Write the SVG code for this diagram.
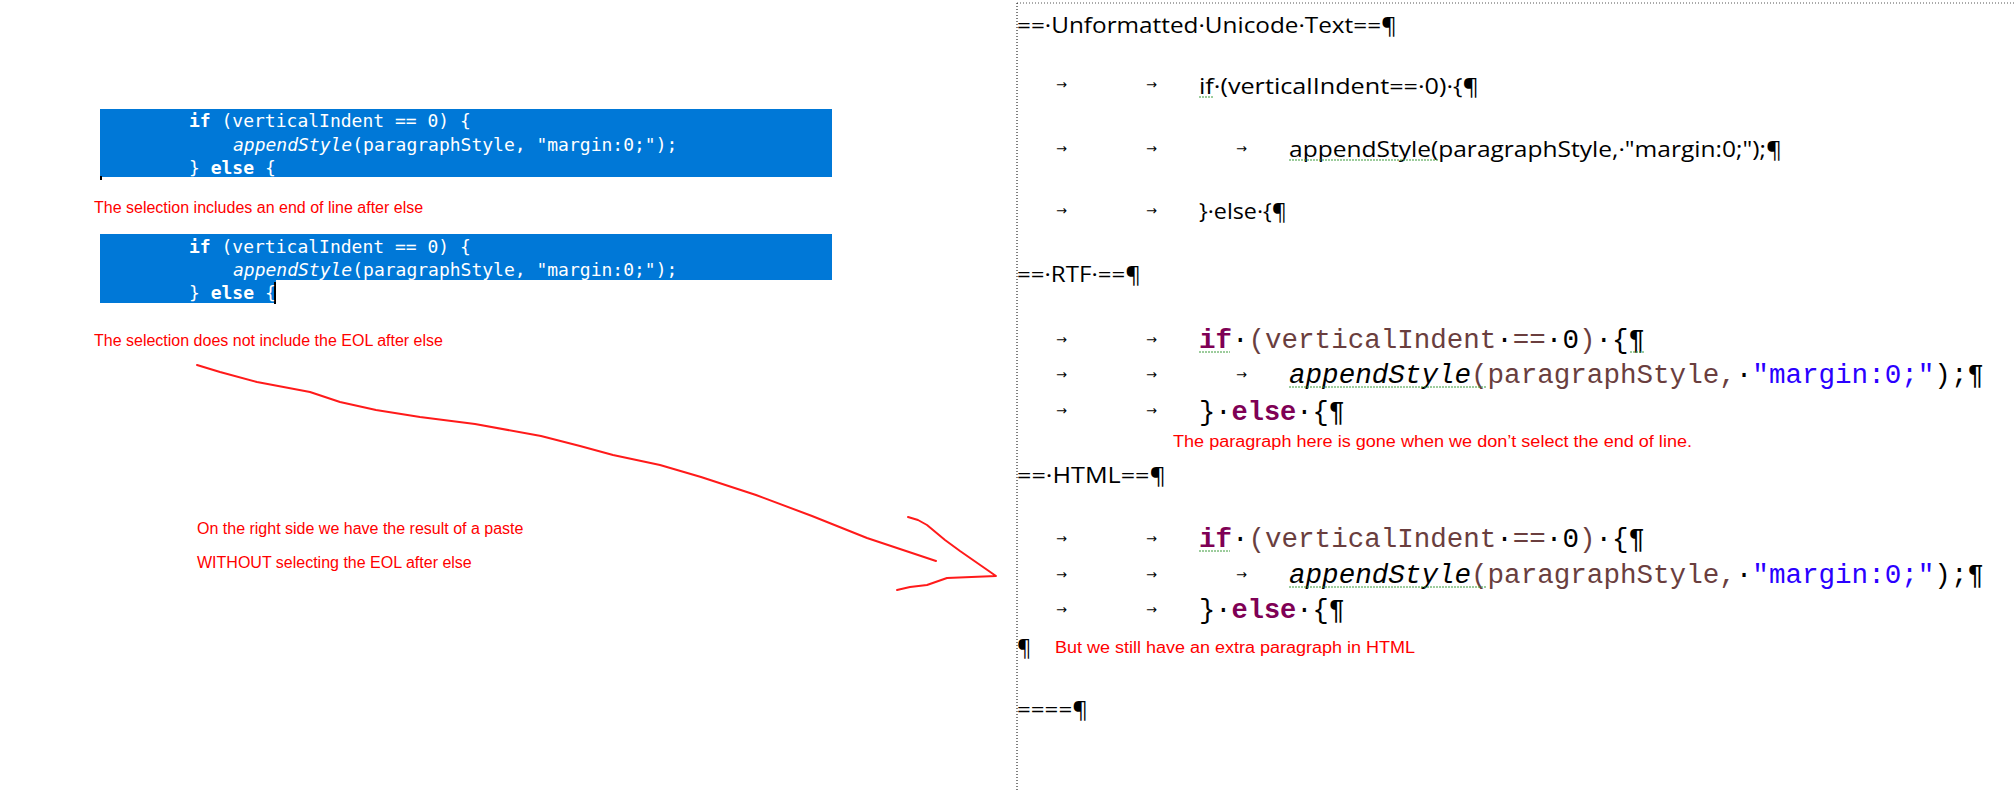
<svg xmlns="http://www.w3.org/2000/svg" width="2016" height="792" viewBox="0 0 2016 792">
<style>
.sel{fill:#0078d7}
.wc{font-family:"DejaVu Sans Mono","Liberation Mono",monospace;font-size:18px;fill:#fff}
.b{font-weight:bold}
.red{font-family:"Liberation Sans",Arial,sans-serif;font-size:16px;fill:#ff0000}
.doc{font-family:"Open Sans","Liberation Sans",sans-serif;font-size:22px;fill:#000}
.mono{font-family:"Liberation Mono","DejaVu Sans Mono",monospace;font-size:27px;fill:#6a3e3e}
.kw{fill:#7f0055;font-weight:bold}
.str{fill:#2a00ff}
.blk{fill:#000}
.tab{font-family:"DejaVu Sans",sans-serif;font-size:13px;fill:#000}
.wav{fill:none;stroke:#3a9a3a;stroke-width:1;stroke-dasharray:2 1}
.pen{fill:none;stroke:#ff1a1a;stroke-width:2;stroke-linejoin:round;stroke-linecap:round}
</style>
<rect width="2016" height="792" fill="#fff"/>
<g id="selection1">
<rect class="sel" x="100" y="109" width="732" height="68"/>
<rect x="100" y="176" width="2" height="4" fill="#000"/>
<text class="wc" x="189" y="127"><tspan class="b">if</tspan> (verticalIndent == 0) {</text>
<text class="wc" x="233" y="151"><tspan font-style="italic">appendStyle</tspan>(paragraphStyle, "margin:0;");</text>
<text class="wc" x="189" y="174">} <tspan class="b">else</tspan> {</text>
</g>
<text id="note1" class="red" x="94" y="213">The selection includes an end of line after else</text>
<g id="selection2">
<rect class="sel" x="100" y="234" width="732" height="46"/>
<rect class="sel" x="100" y="279" width="176" height="24"/>
<rect x="274" y="282" width="2" height="22" fill="#000"/>
<text class="wc" x="189" y="253"><tspan class="b">if</tspan> (verticalIndent == 0) {</text>
<text class="wc" x="233" y="276"><tspan font-style="italic">appendStyle</tspan>(paragraphStyle, "margin:0;");</text>
<text class="wc" x="189" y="299">} <tspan class="b">else</tspan> {</text>
</g>
<text id="note2" class="red" x="94" y="346">The selection does not include the EOL after else</text>
<g id="connectors">
<path class="pen" d="M197,365 L220,372 L257,382 L310,392 L340,402 L376,410 L420,417 L475,424 L541,436 L580,446 L613,455 L660,465 L701,477 L756,495 L812,516 L867,538 L936,561"/>
<path class="pen" d="M908,517 L918,520 L927,525 L945,540 L960,551 L996,576 L947,578 L927,585 L910,587 L897,590"/>
</g>
<text id="note3" class="red" x="197" y="534">On the right side we have the result of a paste</text>
<text id="note4" class="red" x="197" y="568">WITHOUT selecting the EOL after else</text>
<g id="document">
<line x1="1017" y1="3" x2="2016" y2="3" stroke="#555" stroke-width="1" stroke-dasharray="1 2"/>
<line x1="1017" y1="3" x2="1017" y2="792" stroke="#000" stroke-width="1" stroke-dasharray="1 2"/>
<text class="doc" x="1017" y="33" textLength="380" lengthAdjust="spacingAndGlyphs">==·Unformatted·Unicode·Text==¶</text>
<g class="tab"><text x="1056" y="89">→</text><text x="1146" y="89">→</text></g>
<text class="doc" x="1199" y="94" textLength="280" lengthAdjust="spacingAndGlyphs">if·(verticalIndent==·0)·{¶</text>
<path class="wav" d="M1199,97 H1214"/>
<g class="tab"><text x="1056" y="153">→</text><text x="1146" y="153">→</text><text x="1236" y="153">→</text></g>
<text class="doc" x="1289" y="157" textLength="493" lengthAdjust="spacingAndGlyphs">appendStyle(paragraphStyle,·"margin:0;");¶</text>
<path class="wav" d="M1289,160 H1438"/>
<g class="tab"><text x="1056" y="215">→</text><text x="1146" y="215">→</text></g>
<text class="doc" x="1199" y="219" textLength="88" lengthAdjust="spacingAndGlyphs">}·else·{¶</text>
<text class="doc" x="1017" y="282" textLength="124" lengthAdjust="spacingAndGlyphs">==·RTF·==¶</text>
<g class="tab"><text x="1056" y="344">→</text><text x="1146" y="344">→</text></g>
<text class="mono" x="1199" y="348" textLength="446" lengthAdjust="spacingAndGlyphs"><tspan class="kw">if</tspan><tspan class="blk">·</tspan>(verticalIndent<tspan class="blk">·</tspan>==<tspan class="blk">·</tspan><tspan class="blk">0</tspan>)<tspan class="blk">·{¶</tspan></text>
<path class="wav" d="M1199,352 H1230 M1630,352 H1645" stroke="#3a7aff"/>
<g class="tab"><text x="1056" y="379">→</text><text x="1146" y="379">→</text><text x="1236" y="379">→</text></g>
<text class="mono" x="1289" y="383" textLength="695" lengthAdjust="spacingAndGlyphs"><tspan class="blk" font-style="italic">appendStyle</tspan>(paragraphStyle,<tspan class="blk">·</tspan><tspan class="str">"margin:0;"</tspan><tspan class="blk">);¶</tspan></text>
<path class="wav" d="M1289,387 H1486"/>
<g class="tab"><text x="1056" y="415">→</text><text x="1146" y="415">→</text></g>
<text class="mono" x="1199" y="420" textLength="146" lengthAdjust="spacingAndGlyphs"><tspan class="blk">}·</tspan><tspan class="kw">else</tspan><tspan class="blk">·{¶</tspan></text>
<text class="red" x="1173" y="447" textLength="519" lengthAdjust="spacingAndGlyphs">The paragraph here is gone when we don’t select the end of line.</text>
<text class="doc" x="1017" y="483" textLength="149" lengthAdjust="spacingAndGlyphs">==·HTML==¶</text>
<g class="tab"><text x="1056" y="543">→</text><text x="1146" y="543">→</text></g>
<text class="mono" x="1199" y="547" textLength="446" lengthAdjust="spacingAndGlyphs"><tspan class="kw">if</tspan><tspan class="blk">·</tspan>(verticalIndent<tspan class="blk">·</tspan>==<tspan class="blk">·</tspan><tspan class="blk">0</tspan>)<tspan class="blk">·{¶</tspan></text>
<path class="wav" d="M1199,551 H1230"/>
<g class="tab"><text x="1056" y="579">→</text><text x="1146" y="579">→</text><text x="1236" y="579">→</text></g>
<text class="mono" x="1289" y="583" textLength="695" lengthAdjust="spacingAndGlyphs"><tspan class="blk" font-style="italic">appendStyle</tspan>(paragraphStyle,<tspan class="blk">·</tspan><tspan class="str">"margin:0;"</tspan><tspan class="blk">);¶</tspan></text>
<path class="wav" d="M1289,587 H1486"/>
<g class="tab"><text x="1056" y="614">→</text><text x="1146" y="614">→</text></g>
<text class="mono" x="1199" y="618" textLength="146" lengthAdjust="spacingAndGlyphs"><tspan class="blk">}·</tspan><tspan class="kw">else</tspan><tspan class="blk">·{¶</tspan></text>
<text class="doc" x="1017" y="655">¶</text>
<text class="red" x="1055" y="653" font-size="17" textLength="360" lengthAdjust="spacingAndGlyphs">But we still have an extra paragraph in HTML</text>
<text class="doc" x="1017" y="717" textLength="71" lengthAdjust="spacingAndGlyphs">====¶</text>
</g>
</svg>
